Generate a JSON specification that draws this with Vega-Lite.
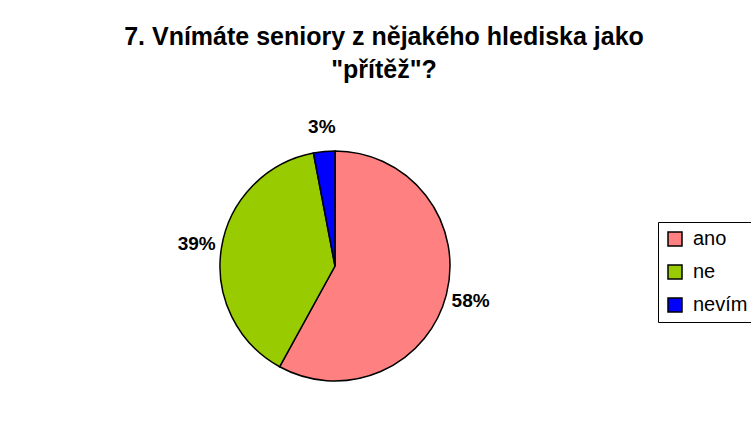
{
  "$schema": "https://vega.github.io/schema/vega-lite/v6.json",
  "width": 670,
  "height": 342,
  "autosize": "none",
  "padding": {"left": 0, "top": 95, "right": 81, "bottom": 0},
  "background": "white",
  "title": {
    "text": ["7. Vnímáte seniory z nějakého hlediska jako", "\"přítěž\"?"],
    "font": "Liberation Sans",
    "fontSize": 25,
    "fontWeight": "bold",
    "color": "black",
    "anchor": "middle",
    "dx": 49,
    "lineHeight": 33,
    "offset": 12
  },
  "data": {
    "values": [
      {"odpoved": "ano", "podil": 0.58},
      {"odpoved": "ne", "podil": 0.39},
      {"odpoved": "nevím", "podil": 0.03}
    ]
  },
  "encoding": {
    "theta": {"field": "podil", "type": "quantitative", "stack": true},
    "order": {"field": "odpoved", "type": "nominal", "sort": "ascending"}
  },
  "layer": [
    {
      "mark": {"type": "arc", "outerRadius": 115, "stroke": "black", "strokeWidth": 1.5},
      "encoding": {
        "color": {
          "field": "odpoved",
          "type": "nominal",
          "scale": {"domain": ["ano", "ne", "nevím"], "range": ["#FF8080", "#99CC00", "#0000FF"]},
          "legend": {
            "title": null,
            "orient": "none",
            "legendX": 658,
            "legendY": 127,
            "padding": 7,
            "strokeColor": "black",
            "fillColor": "white",
            "cornerRadius": 0,
            "symbolType": "square",
            "symbolSize": 196,
            "symbolStrokeColor": "black",
            "symbolStrokeWidth": 1.5,
            "symbolOpacity": 1,
            "labelFont": "Liberation Sans",
            "labelFontSize": 20,
            "labelColor": "black",
            "labelOffset": 8,
            "rowPadding": 13
          }
        }
      }
    },
    {
      "mark": {"type": "text", "radius": 140, "font": "Liberation Sans", "fontSize": 19, "fontWeight": "bold", "color": "black"},
      "encoding": {
        "text": {"field": "podil", "type": "quantitative", "format": ".0%"}
      }
    }
  ],
  "config": {"view": {"stroke": null}}
}
